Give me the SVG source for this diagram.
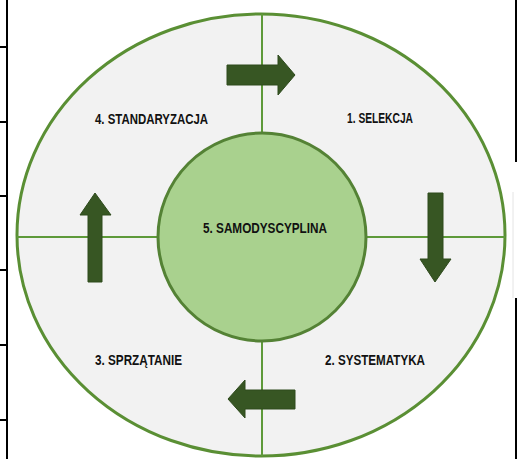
<svg xmlns="http://www.w3.org/2000/svg" width="520" height="459" viewBox="0 0 520 459">
<style>
.tbl{stroke:#000;stroke-width:2;fill:none}
.div{stroke:#5e9a3a;stroke-width:2;fill:none}
.arr{fill:#375623;stroke:#2e4a1d;stroke-width:1}
.lbl{font-family:"Liberation Sans",Arial,sans-serif;font-weight:bold;font-size:14px;fill:#111}
</style>
<rect width="520" height="459" fill="#fff"/>
<g id="table-edge">
<line class="tbl" x1="7" y1="0" x2="7" y2="459"/>
<line class="tbl" x1="0" y1="47" x2="7" y2="47"/>
<line class="tbl" x1="0" y1="122" x2="7" y2="122"/>
<line class="tbl" x1="0" y1="196" x2="7" y2="196"/>
<line class="tbl" x1="0" y1="270" x2="7" y2="270"/>
<line class="tbl" x1="0" y1="345" x2="7" y2="345"/>
<line class="tbl" x1="0" y1="420" x2="7" y2="420"/>
<line class="tbl" x1="516" y1="0" x2="516" y2="162"/>
<line class="tbl" x1="516" y1="298" x2="516" y2="459"/>
<line x1="513" y1="192" x2="513" y2="298" stroke="#e4e4e4" stroke-width="1"/>
</g>
<g id="outer">
<ellipse cx="261" cy="235" rx="244" ry="221" fill="#f2f2f2" stroke="#5a8f34" stroke-width="3"/>
</g>
<g id="connectors">
<line class="div" x1="262" y1="14" x2="262" y2="456"/>
<line class="div" x1="17" y1="237" x2="505" y2="237"/>
</g>
<g id="center">
<circle cx="262" cy="237" r="104" fill="#a9d18e" stroke="#548235" stroke-width="3"/>
<text class="lbl" x="203" y="233" textLength="124" lengthAdjust="spacingAndGlyphs">5. SAMODYSCYPLINA</text>
</g>
<g id="arrow-top">
<polygon class="arr" points="227,65 278,65 278,55 295,75 278,95 278,85 227,85"/>
</g>
<g id="arrow-right">
<polygon class="arr" points="428,193 443,193 443,259 451,259 435,282 420,259 428,259"/>
</g>
<g id="arrow-bottom">
<polygon class="arr" points="295,390 245,390 245,380 228,399 245,418 245,409 295,409"/>
</g>
<g id="arrow-left">
<polygon class="arr" points="88,282 102,282 102,215 111,215 95,193 80,215 88,215"/>
</g>
<g id="step1"><text class="lbl" x="347" y="123" textLength="66" lengthAdjust="spacingAndGlyphs">1. SELEKCJA</text></g>
<g id="step2"><text class="lbl" x="325" y="365" textLength="100" lengthAdjust="spacingAndGlyphs">2. SYSTEMATYKA</text></g>
<g id="step3"><text class="lbl" x="95" y="365" textLength="87" lengthAdjust="spacingAndGlyphs">3. SPRZĄTANIE</text></g>
<g id="step4"><text class="lbl" x="95" y="124" textLength="113" lengthAdjust="spacingAndGlyphs">4. STANDARYZACJA</text></g>
</svg>
